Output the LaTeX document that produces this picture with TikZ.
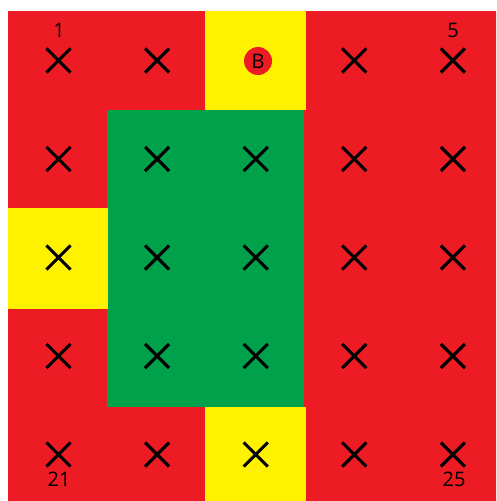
\documentclass[tikz,border=0pt]{standalone}
\usepackage{fontspec}
\setmainfont{Open Sans}
\usetikzlibrary{shapes.misc}
\definecolor{cred}{HTML}{ED1C24}
\definecolor{cyel}{HTML}{FFF200}
\definecolor{cgrn}{HTML}{00A14B}
\begin{document}
\begin{tikzpicture}[x=1pt,y=-1pt,
  xmark/.style={cross out,draw=black,line width=3.1pt,minimum size=21pt,inner sep=0pt},
  lbl/.style={font=\fontsize{20}{22}\selectfont,inner sep=0pt}]
\useasboundingbox (0,0) rectangle (496,501);
\fill[white] (0,0) rectangle (496,501);
\begin{scope}
\clip (0,0) rectangle (496,501);
\fill[cred] (8,11) rectangle (500.5,503.5);
% green block
\fill[cgrn] (106.5,109.5) rectangle (303.5,407);
% yellow cells
\fill[cyel] (205,11) rectangle (305.5,109.5);
\fill[cyel] (8,208) rectangle (107.5,308.5);
\fill[cyel] (205,407) rectangle (305.5,503.5);
\end{scope}
\foreach \r in {0,...,4}{
  \foreach \c in {0,...,4}{
    \pgfmathtruncatemacro{\n}{\r*5+\c+1}
    \ifnum\n=3\relax\else
      \node[xmark] (x\n) at ({58.5+98.6*\c},{60.5+98.5*\r}) {};
    \fi
  }
}
\node[circle,fill=cred,minimum size=28pt,inner sep=0pt,lbl] (b) at (258,61) {B};
\node[lbl] (l1) at (59,30.5) {1};
\node[lbl] (l5) at (453,30.5) {5};
\node[lbl] (l21) at (59,479.5) {21};
\node[lbl] (l25) at (454,479.5) {25};
\end{tikzpicture}
\end{document}
